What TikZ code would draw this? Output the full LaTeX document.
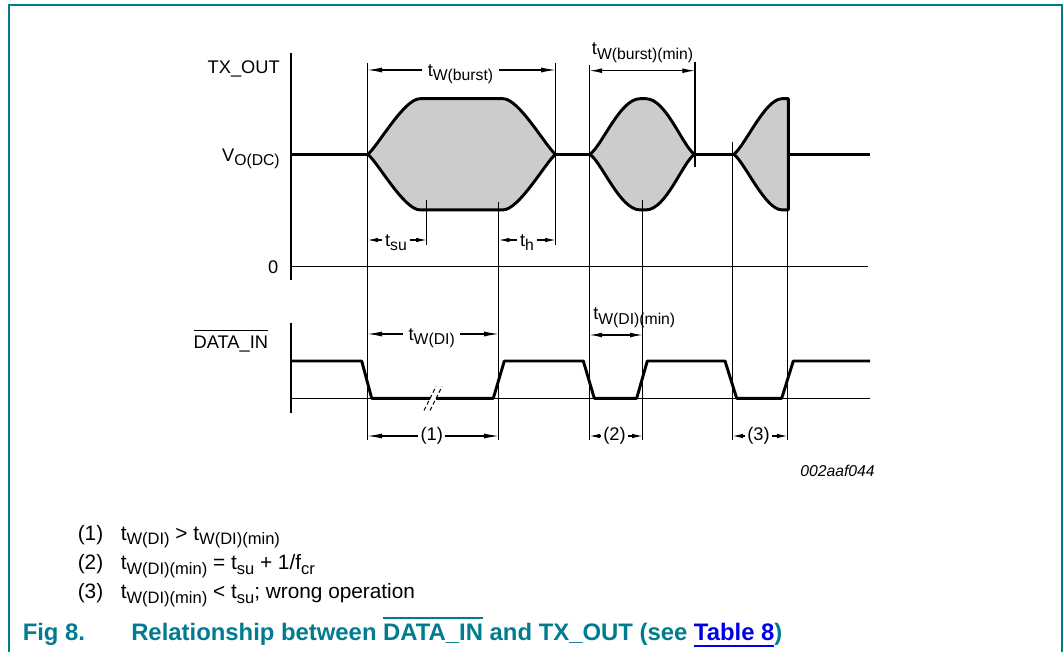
\documentclass[tikz,border=0pt]{standalone}
\usepackage{fontspec}
\setmainfont{Liberation Sans}
\usetikzlibrary{arrows.meta}
\definecolor{teal0}{RGB}{0,123,143}
\definecolor{linkblue}{RGB}{0,0,230}
\definecolor{burstgray}{RGB}{204,204,204}
\newcommand{\subtx}[1]{\raisebox{-0.22em}{\fontsize{11.8}{13}\selectfont #1}}
\newcommand{\subnt}[1]{\raisebox{-0.22em}{\fontsize{12.4}{13}\selectfont #1}}
\newcommand{\ovltx}[3]{\leavevmode\setbox0\hbox{#1}\rlap{\raisebox{\dimexpr\ht0+#2\relax}{\rule{\wd0}{#3}}}\box0\relax}
\newcommand{\ultx}[1]{\leavevmode\setbox0\hbox{#1}\rlap{\raisebox{-5.4pt}{\rule{\wd0}{1.6pt}}}\box0\relax}
\begin{document}
\begin{tikzpicture}[x=0.75pt,y=-0.75pt,
  every node/.style={font=\fontsize{13.7}{16}\selectfont, inner sep=0pt},
  wave/.style={line width=2.2pt, line join=round},
  thinl/.style={line width=0.8pt},
  axisl/.style={line width=1.3pt},
  dimbig/.style={line width=0.8pt, -{Latex[length=11pt,width=3.8pt]}},
  dimsm/.style={line width=0.8pt, -{Latex[length=8pt,width=3.4pt]}},
  dimboth/.style={line width=0.8pt, {Latex[length=9.5pt,width=3.6pt]}-{Latex[length=9.5pt,width=3.6pt]}},
  frame/.style={line width=1.6pt, draw=teal0},
  dimlbl/.style={inner xsep=4pt, anchor=base},
  dimlbls/.style={inner xsep=2pt, anchor=base},
  numlbl/.style={inner xsep=1.5pt, anchor=center},
  notefont/.style={font=\fontsize{15.6}{18}\selectfont, anchor=base west},
  capfont/.style={font=\fontsize{17.9}{20}\selectfont\bfseries, text=teal0, anchor=base west}
]
\useasboundingbox (0,0) rectangle (1064,652);
\draw[frame] (9.3,652) -- (9.3,4.7) -- (1062,4.7) -- (1062,652);

% bursts (fill + outline)
\filldraw[fill=burstgray, wave] (367.8,154.3) .. controls (378,146) and (404,98.7) .. (420,98.7) -- (503,98.7) .. controls (519,98.7) and (545.5,146) .. (555.5,154.3) .. controls (545.5,162.6) and (519,209.9) .. (503,209.9) -- (420,209.9) .. controls (404,209.9) and (378,162.6) .. (367.8,154.3) -- cycle;
\filldraw[fill=burstgray, wave] (589.8,154.3) .. controls (602,146) and (620,98.7) .. (640,98.7) -- (646,98.7) .. controls (666,98.7) and (682.5,146) .. (694.5,154.3) .. controls (682.5,162.6) and (666,209.9) .. (646,209.9) -- (640,209.9) .. controls (620,209.9) and (602,162.6) .. (589.8,154.3) -- cycle;
\filldraw[fill=burstgray, wave] (733.8,154.3) .. controls (745,146) and (765,98.7) .. (782,98.7) -- (788.3,98.7) -- (788.3,209.9) -- (782,209.9) .. controls (765,209.9) and (745,162.6) .. (733.8,154.3) -- cycle;

% thin reference lines
\draw[thinl] (367.5,63) -- (367.5,440);
\draw[thinl] (555.7,63) -- (555.7,245);
\draw[thinl] (426.7,200) -- (426.7,245);
\draw[thinl] (498.7,201.7) -- (498.7,440);
\draw[thinl] (589.5,65) -- (589.5,440);
\draw[thinl] (695,62) -- (695,167);
\draw[thinl] (642.7,200) -- (642.7,440);
\draw[thinl] (732.5,141.7) -- (732.5,440);
\draw[thinl] (787.5,210) -- (787.5,440);

% axes
\draw[axisl] (290.7,53.3) -- (290.7,280);
\draw[line width=1.1pt] (290.7,266.7) -- (868,266.7);
\draw[axisl] (290.7,323.3) -- (290.7,413.3);
\draw[thinl] (290.7,398.7) -- (430,398.7);
\draw[thinl] (436,398.7) -- (870,398.7);

% VO(DC) level
\draw[wave] (290.7,154.3) -- (367.8,154.3);
\draw[wave] (555.5,154.3) -- (589.8,154.3);
\draw[wave] (694.5,154.3) -- (733.8,154.3);
\draw[wave] (788.3,154.3) -- (870,154.3);

% DATA_IN waveform
\draw[wave] (290.7,361) -- (361.7,361) -- (371.7,398.3) -- (430,398.3);
\draw[wave] (436,398.3) -- (493.3,398.3) -- (504.3,361) -- (583.3,361) -- (594.3,398.3) -- (636.7,398.3) -- (647.3,361) -- (725,361) -- (736.7,398.3) -- (781.7,398.3) -- (793.3,361) -- (870,361);
\draw[thinl, dash pattern=on 3pt off 2pt] (424,410.5) -- (436,386.5);
\draw[thinl, dash pattern=on 3pt off 2pt] (430,410.5) -- (442,386.5);

% left labels
\node[anchor=base east] (txout) at (280,73.3) {TX\_OUT};
\node[anchor=base east] (vodc) at (280,161.7) {V\subtx{O(DC)}};
\node[anchor=base east] (zero) at (278.5,273.3) {0};
\node[anchor=base east] (datain) at (268.3,348.3) {\ovltx{DATA\_IN}{3.2pt}{0.8pt}};
\node[anchor=base east, font=\fontsize{11.8}{14}\selectfont\itshape] (figid) at (875,476.7) {002aaf044};

% dimension: tW(burst)
\coordinate (bL) at (367.5,70);
\coordinate (bR) at (555.7,70);
\node[dimlbl] (tburst) at (460.5,76.5) {t\subtx{W(burst)}};
\draw[dimbig] (tburst.west |- bL) -- (bL);
\draw[dimbig] (tburst.east |- bR) -- (bR);

% dimension: tW(burst)(min)
\coordinate (mL) at (589.5,70.7);
\coordinate (mR) at (695,70.7);
\node[anchor=base west] (tburstmin) at (591.7,55) {t\subtx{W(burst)(min)}};
\draw[dimboth] (mL) -- (mR);

% tsu, th
\coordinate (suL) at (367.5,240);
\coordinate (suR) at (426.7,240);
\node[dimlbls] (tsu) at (396,246.5) {t\subtx{su}};
\draw[dimsm] (tsu.west |- suL) -- (suL);
\draw[dimsm] (tsu.east |- suR) -- (suR);
\coordinate (hL) at (498.7,240);
\coordinate (hR) at (555.7,240);
\node[dimlbls] (th) at (527,246.5) {t\subtx{h}};
\draw[dimsm] (th.west |- hL) -- (hL);
\draw[dimsm] (th.east |- hR) -- (hR);

% tW(DI)
\coordinate (diL) at (367.5,334);
\coordinate (diR) at (498.7,334);
\node[dimlbl] (twdi) at (431.7,340.5) {t\subtx{W(DI)}};
\draw[dimbig] (twdi.west |- diL) -- (diL);
\draw[dimbig] (twdi.east |- diR) -- (diR);

% tW(DI)(min)
\coordinate (dmL) at (589.5,335);
\coordinate (dmR) at (642.7,335);
\node[anchor=base west] (twdimin) at (593,320) {t\subtx{W(DI)(min)}};
\draw[dimboth] (dmL) -- (dmR);

% (1) (2) (3)
\coordinate (oL) at (367.5,436);
\coordinate (oR) at (498.7,436);
\node[numlbl] (one) at (431.7,436) {(1)};
\draw[dimbig] (one.west) -- (oL);
\draw[dimbig] (one.east) -- (oR);
\coordinate (wL) at (589.5,436);
\coordinate (wR) at (642.7,436);
\node[numlbl] (two) at (614.5,436) {(2)};
\draw[dimsm] (two.west) -- (wL);
\draw[dimsm] (two.east) -- (wR);
\coordinate (rL) at (732.5,436);
\coordinate (rR) at (787.5,436);
\node[numlbl] (three) at (758.5,436) {(3)};
\draw[dimsm] (three.west) -- (rL);
\draw[dimsm] (three.east) -- (rR);

% notes
\node[notefont] (n1) at (77.5,540.3) {(1)};
\node[notefont] (n1t) at (120.5,540.3) {t\subnt{W(DI)} > t\subnt{W(DI)(min)}};
\node[notefont] (n2) at (77.5,569.5) {(2)};
\node[notefont] (n2t) at (120.5,569.5) {t\subnt{W(DI)(min)} = t\subnt{su} + 1/f\subnt{cr}};
\node[notefont] (n3) at (77.5,598.8) {(3)};
\node[notefont] (n3t) at (120.5,598.8) {t\subnt{W(DI)(min)} < t\subnt{su}; wrong operation};

% caption
\node[capfont] (fig) at (22.5,640) {Fig 8.};
\node[capfont] (cap) at (131,640) {Relationship between \ovltx{DATA\_IN}{3.6pt}{1.6pt} and TX\_OUT (see {\color{linkblue}\ultx{Table 8}})};
\end{tikzpicture}
\end{document}
